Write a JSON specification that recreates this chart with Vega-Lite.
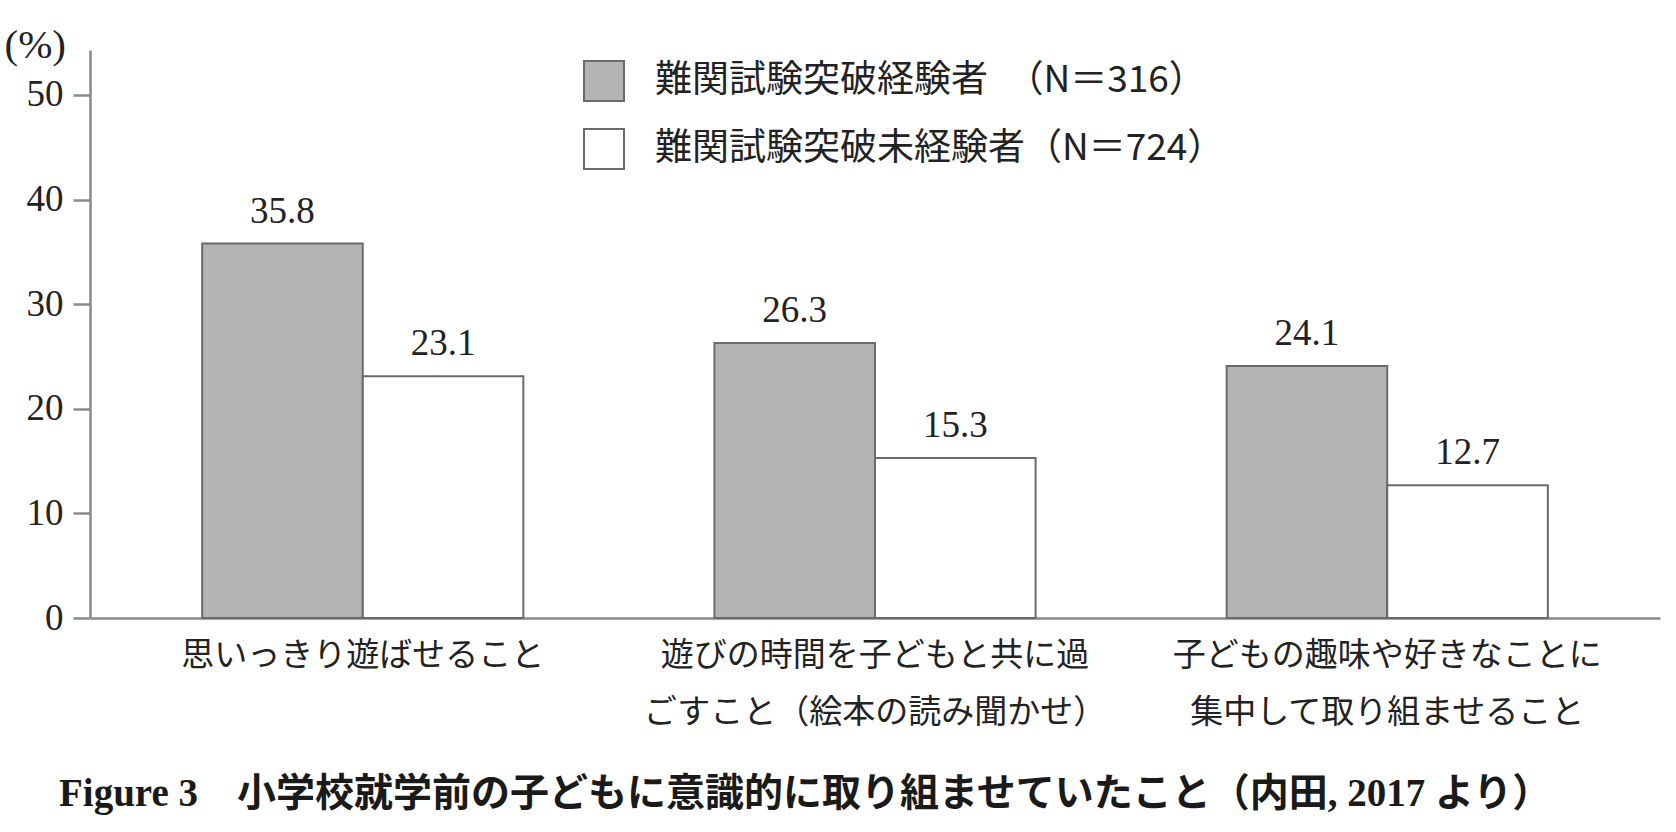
{
  "$schema": "https://vega.github.io/schema/vega-lite/v6.json",
  "autosize": "none",
  "width": 1570,
  "height": 568,
  "padding": {"left": 90, "top": 50, "right": 16, "bottom": 214},
  "background": "white",
  "title": {
    "text": "Figure 3　小学校就学前の子どもに意識的に取り組ませていたこと（内田, 2017 より）",
    "orient": "bottom",
    "anchor": "start",
    "frame": "group",
    "dx": -31,
    "offset": 46,
    "font": "Liberation Serif, Noto Sans CJK JP",
    "fontSize": 39,
    "fontWeight": "bold",
    "color": "#1a1a1a"
  },
  "data": {
    "values": [
      {"item": "思いっきり遊ばせること", "group": "難関試験突破経験者　（N＝316）", "pct": 35.8},
      {"item": "思いっきり遊ばせること", "group": "難関試験突破未経験者（N＝724）", "pct": 23.1},
      {"item": "遊びの時間を子どもと共に過\nごすこと（絵本の読み聞かせ）", "group": "難関試験突破経験者　（N＝316）", "pct": 26.3},
      {"item": "遊びの時間を子どもと共に過\nごすこと（絵本の読み聞かせ）", "group": "難関試験突破未経験者（N＝724）", "pct": 15.3},
      {"item": "子どもの趣味や好きなことに\n集中して取り組ませること", "group": "難関試験突破経験者　（N＝316）", "pct": 24.1},
      {"item": "子どもの趣味や好きなことに\n集中して取り組ませること", "group": "難関試験突破未経験者（N＝724）", "pct": 12.7}
    ]
  },
  "encoding": {
    "x": {
      "field": "item",
      "type": "nominal",
      "sort": null,
      "scale": {"paddingInner": 0.373, "paddingOuter": 0.219},
      "axis": {
        "title": null,
        "ticks": false,
        "labelAngle": 0,
        "domainColor": "#8a8a8a",
        "domainWidth": 2.5,
        "labelFont": "Noto Sans CJK JP",
        "labelFontSize": 33,
        "labelColor": "#222",
        "labelLineHeight": 57,
        "labelPadding": 21,
        "labelLimit": 0,
        "labelExpr": "split(datum.label, '\\n')"
      }
    },
    "xOffset": {
      "field": "group",
      "type": "nominal",
      "scale": {
        "domain": ["難関試験突破経験者　（N＝316）", "難関試験突破未経験者（N＝724）"],
        "paddingInner": 0,
        "paddingOuter": 0
      }
    },
    "y": {
      "field": "pct",
      "type": "quantitative",
      "scale": {"domain": [0, 54.3], "nice": false},
      "axis": {
        "title": "(%)",
        "titleAngle": 0,
        "titleAlign": "left",
        "titleBaseline": "middle",
        "titleX": -86,
        "titleY": -5,
        "titleFont": "Liberation Serif",
        "titleFontSize": 41,
        "titleFontWeight": "normal",
        "titleColor": "#222",
        "values": [0, 10, 20, 30, 40, 50],
        "grid": false,
        "domainColor": "#8a8a8a",
        "domainWidth": 2.5,
        "tickColor": "#8a8a8a",
        "tickWidth": 2.5,
        "tickSize": 17,
        "labelFont": "Liberation Serif",
        "labelFontSize": 37,
        "labelColor": "#222",
        "labelPadding": 10
      }
    }
  },
  "layer": [
    {
      "mark": {"type": "bar", "stroke": "#6a6a6a", "strokeWidth": 2},
      "encoding": {
        "fill": {
          "field": "group",
          "type": "nominal",
          "scale": {
            "domain": ["難関試験突破経験者　（N＝316）", "難関試験突破未経験者（N＝724）"],
            "range": ["#b4b4b4", "#ffffff"]
          },
          "legend": {
            "title": null,
            "orient": "none",
            "legendX": 493,
            "legendY": 10,
            "padding": 0,
            "symbolType": "square",
            "symbolSize": 1600,
            "symbolStrokeColor": "#6a6a6a",
            "symbolStrokeWidth": 2,
            "labelFont": "Noto Sans CJK JP",
            "labelFontSize": 37,
            "labelColor": "#222",
            "labelOffset": 30,
            "labelLimit": 0,
            "rowPadding": 20
          }
        }
      }
    },
    {
      "mark": {
        "type": "text",
        "baseline": "alphabetic",
        "dy": -21,
        "font": "Liberation Serif",
        "fontSize": 37,
        "color": "#222"
      },
      "encoding": {
        "text": {"field": "pct", "type": "quantitative", "format": ".1f"}
      }
    }
  ],
  "config": {
    "view": {"stroke": null}
  }
}
